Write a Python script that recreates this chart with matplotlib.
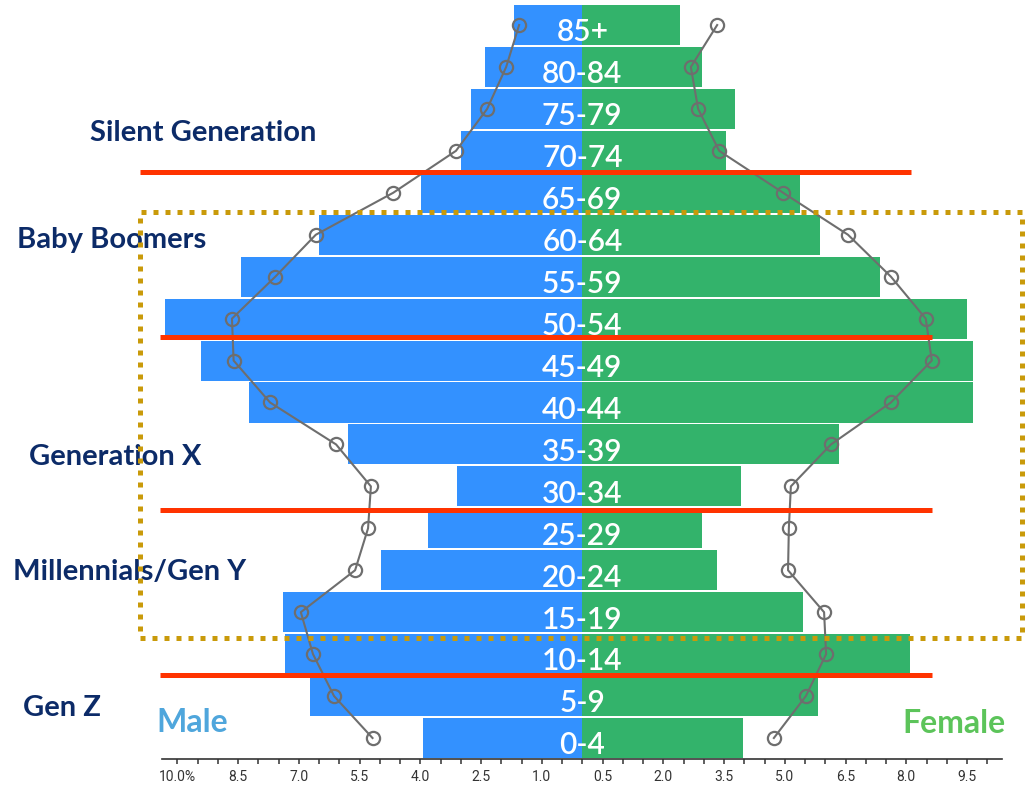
import matplotlib
matplotlib.use("Agg")
import matplotlib.pyplot as plt
import numpy as np
from matplotlib.patches import Rectangle
from matplotlib.ticker import FixedLocator, FuncFormatter

# Age groups, youngest at the bottom
age_groups = ["0-4", "5-9", "10-14", "15-19", "20-24", "25-29", "30-34", "35-39",
              "40-44", "45-49", "50-54", "55-59", "60-64", "65-69", "70-74",
              "75-79", "80-84", "85+"]

# Share of population (%) shown as bars
male_pct = [3.93, 6.72, 7.34, 7.39, 4.97, 3.81, 3.09, 5.79, 8.24, 9.42,
            10.30, 8.43, 6.50, 3.98, 3.00, 2.75, 2.40, 1.69]
female_pct = [3.96, 5.82, 8.09, 5.45, 3.33, 2.96, 3.92, 6.34, 9.64, 9.64,
              9.49, 7.35, 5.87, 5.38, 3.54, 3.77, 2.95, 2.41]

# Comparison profile shown as the line with open circles
male_ref = [5.18, 6.13, 6.65, 6.95, 5.61, 5.29, 5.22, 6.08, 7.71, 8.61,
            8.65, 7.58, 6.58, 4.67, 3.12, 2.35, 1.88, 1.56]
female_ref = [4.73, 5.52, 6.02, 5.97, 5.08, 5.10, 5.15, 6.14, 7.62, 8.63,
              8.48, 7.62, 6.56, 4.96, 3.38, 2.86, 2.68, 3.33]

# Generation names
generations = ["Silent Generation", "Baby Boomers", "Generation X",
               "Millennials/Gen Y", "Gen Z"]

BLUE = "#3391FF"
GREEN = "#33B36B"
GREY = "#6E6E6E"
RED = "#FF3300"
GOLD = "#C99A0A"
NAVY = "#0C2B68"

fig = plt.figure(figsize=(10.25, 7.88), dpi=100)
ax = fig.add_axes([0, 0, 1, 1])
ax.set_xlim(-14.378, 10.931)
ax.set_ylim(-1.192, 17.597)

y = np.arange(len(age_groups))
ax.barh(y, -np.asarray(male_pct), height=0.955, color=BLUE, zorder=2)
ax.barh(y, female_pct, height=0.955, color=GREEN, zorder=2)

line_kw = dict(color=GREY, lw=1.5, marker="o", ms=9.5, mfc="none",
               mec=GREY, mew=1.6, zorder=4)
ax.plot(-np.asarray(male_ref), y, **line_kw)
ax.plot(female_ref, y, **line_kw)

for yi, lab in zip(y, age_groups):
    ax.text(0, yi - 0.39, lab, ha="center", va="baseline", color="white",
            fontsize=21.5, family="Lato", fontweight="semibold", zorder=5)

# Generation dividers
for yy, x0, x1 in [(13.5, -10.93, 8.11), (9.55, -10.43, 8.63),
                   (5.44, -10.43, 8.63), (1.50, -10.43, 8.63)]:
    ax.plot([x0, x1], [yy, yy], color=RED, lw=3.6, solid_capstyle="butt",
            zorder=6)

# Generation names
for name, (gx, gy) in zip(generations, [(-12.16, 14.24), (-13.96, 11.68),
                                        (-13.66, 6.51), (-14.06, 3.77),
                                        (-13.82, 0.525)]):
    ax.text(gx, gy, name, ha="left", va="baseline", color=NAVY,
            fontsize=21, family="Lato", fontweight="bold", zorder=5)

ax.text(-10.51, 0.136, "Male", ha="left", va="baseline", color="#4FA6DC",
        fontsize=23, family="Lato", fontweight="bold", zorder=5)
ax.text(10.44, 0.112, "Female", ha="right", va="baseline", color="#5CC45A",
        fontsize=23, family="Lato", fontweight="bold", zorder=5)

# Dotted frame around the working-age band
ax.add_patch(Rectangle((-10.93, 2.39), 21.78, 10.145, fill=False, ec=GOLD,
                       lw=3.6, linestyle=(0, (1.0, 1.4)), zorder=7))

# Bottom axis
for side in ["top", "right", "left"]:
    ax.spines[side].set_visible(False)
ax.spines["bottom"].set_position(("data", -0.5))
ax.spines["bottom"].set_bounds(-10.37, 10.37)
ax.spines["bottom"].set_color("#333333")
ax.spines["bottom"].set_linewidth(1.2)
ax.spines["bottom"].set_zorder(3)

major = [-10 + 1.5 * k for k in range(14)]
minor = [-10 + 0.5 * k for k in range(41)]
ax.xaxis.set_major_locator(FixedLocator(major))
ax.xaxis.set_minor_locator(FixedLocator(minor))
ax.xaxis.set_major_formatter(FuncFormatter(
    lambda v, p: "10.0%" if abs(v + 10) < 1e-9 else f"{abs(v):.1f}"))
ax.tick_params(axis="x", which="both", direction="out", length=3.8,
               width=1.1, color="#333333")
ax.tick_params(axis="x", which="major", labelsize=10, pad=4,
               labelcolor="#333333")
for t in ax.get_xticklabels():
    t.set_family("Roboto")
ax.set_yticks([])

fig.savefig("out.png", dpi=100)
